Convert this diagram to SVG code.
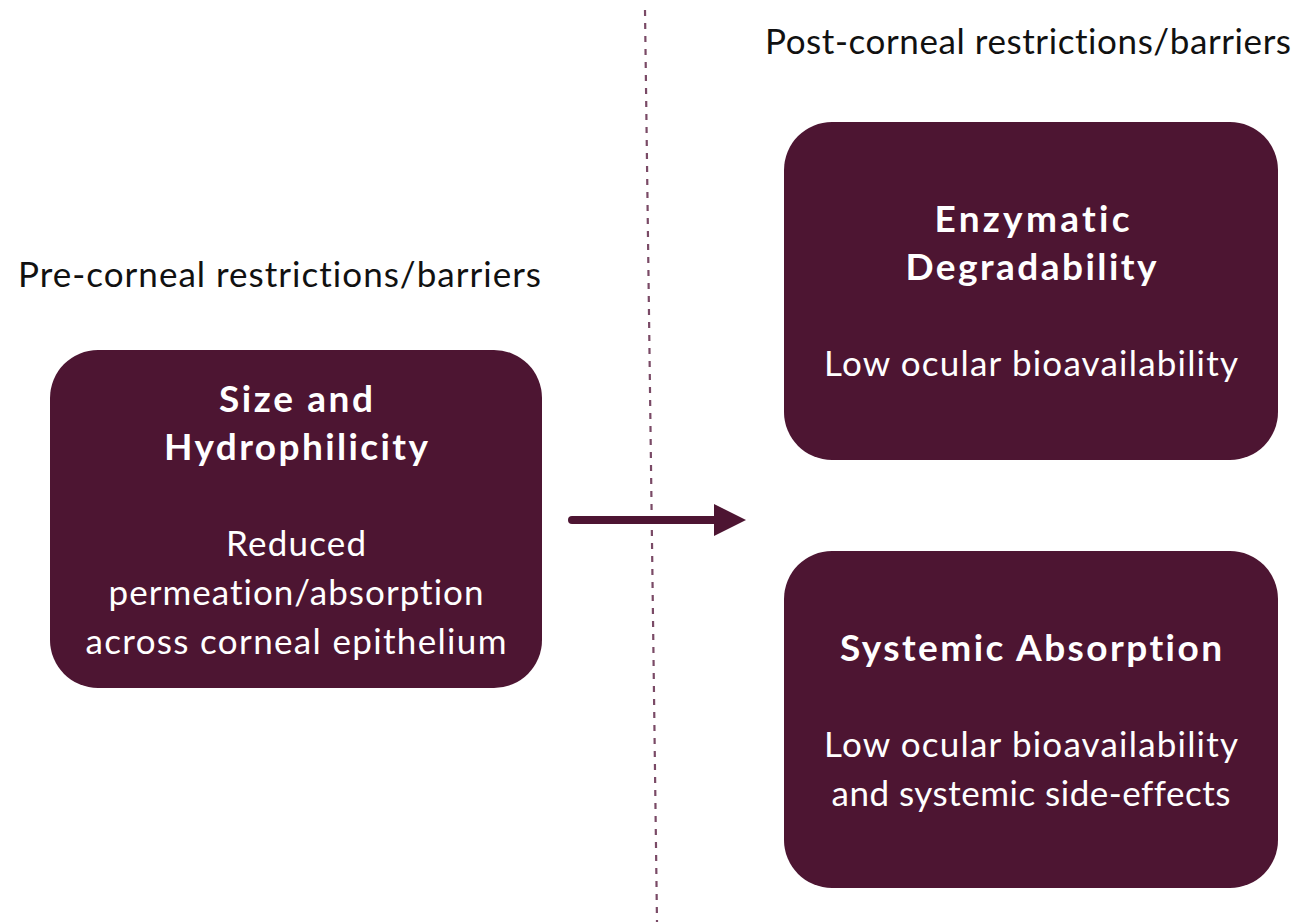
<svg xmlns="http://www.w3.org/2000/svg" width="1295" height="922" viewBox="0 0 1295 922">
<style>
text{font-variant-ligatures:none}
.box{fill:#4d1532}
.lbl{font-family:Lato,"Open Sans",sans-serif;font-size:35px;fill:#111}
.t{font-family:Lato,"Open Sans",sans-serif;font-size:37px;font-weight:bold;fill:#fff;text-anchor:middle}
.b{font-family:Lato,"Open Sans",sans-serif;font-size:35px;fill:#fff;text-anchor:middle}
</style>
<defs>
<marker id="ah" markerWidth="4" markerHeight="4" refX="1" refY="2" orient="auto" markerUnits="strokeWidth">
<path d="M0,0 L4,2 L0,4 Z" fill="#4d1532"/>
</marker>
</defs>
<rect width="1295" height="922" fill="#fff"/>
<line x1="645" y1="10" x2="657" y2="922" stroke="#7a4a66" stroke-width="2.2" stroke-dasharray="6,7"/>
<text class="lbl" x="18" y="287" textLength="523" lengthAdjust="spacing">Pre-corneal restrictions/barriers</text>
<text class="lbl" x="765" y="54" textLength="526" lengthAdjust="spacing">Post-corneal restrictions/barriers</text>
<g id="connectors">
<line x1="572" y1="520" x2="722" y2="520" stroke="#4d1532" stroke-width="8" stroke-linecap="round" marker-end="url(#ah)"/>
</g>
<g id="node1">
<rect class="box" x="50" y="350" width="492" height="338" rx="48"/>
<text class="t" x="296" y="412" textLength="154" lengthAdjust="spacing">Size and</text>
<text class="t" x="296" y="460" textLength="264" lengthAdjust="spacing">Hydrophilicity</text>
<text class="b" x="296" y="556" textLength="140" lengthAdjust="spacing">Reduced</text>
<text class="b" x="296" y="605" textLength="375" lengthAdjust="spacing">permeation/absorption</text>
<text class="b" x="296" y="654" textLength="421" lengthAdjust="spacing">across corneal epithelium</text>
</g>
<g id="node2">
<rect class="box" x="784" y="122" width="494" height="338" rx="48"/>
<text class="t" x="1032" y="232" textLength="195" lengthAdjust="spacing">Enzymatic</text>
<text class="t" x="1031" y="280" textLength="251" lengthAdjust="spacing">Degradability</text>
<text class="b" x="1031" y="376" textLength="414" lengthAdjust="spacing">Low ocular bioavailability</text>
</g>
<g id="node3">
<rect class="box" x="784" y="551" width="494" height="337" rx="48"/>
<text class="t" x="1031" y="661" textLength="382" lengthAdjust="spacing">Systemic Absorption</text>
<text class="b" x="1031" y="757" textLength="414" lengthAdjust="spacing">Low ocular bioavailability</text>
<text class="b" x="1031" y="806" textLength="399" lengthAdjust="spacing">and systemic side-effects</text>
</g>
</svg>
